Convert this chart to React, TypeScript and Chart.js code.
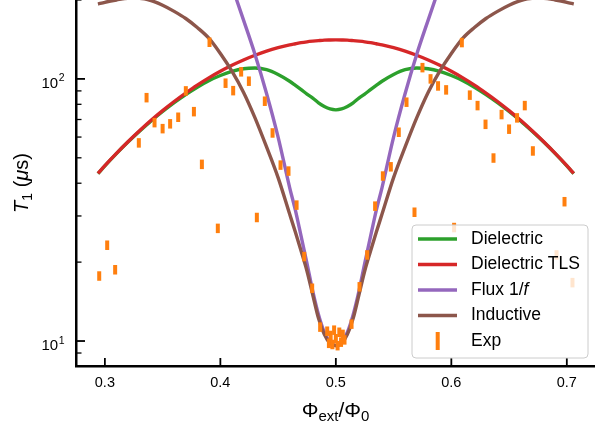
import React, { useEffect, useRef } from "react";
import { Chart, registerables } from "chart.js";

Chart.register(...registerables);

// ---------- data ----------
const flux = [
  0.294, 0.30, 0.31, 0.32, 0.33, 0.34, 0.35, 0.36, 0.37, 0.38, 0.39, 0.40, 0.41, 0.42, 0.43,
  0.44, 0.45, 0.46, 0.465, 0.47, 0.475, 0.48, 0.485, 0.49, 0.495, 0.50,
  0.505, 0.51, 0.515, 0.52, 0.525, 0.53, 0.535, 0.54, 0.55, 0.56, 0.57, 0.58, 0.59, 0.60,
  0.61, 0.62, 0.63, 0.64, 0.65, 0.66, 0.67, 0.68, 0.69, 0.70, 0.706,
];

const dielectric = [
  43.5, 46.6, 51.9, 57.4, 63.1, 69.1, 75.1, 81.2, 87.2, 93.0, 98.4, 103.0, 106.8, 109.3, 110.0,
  108.5, 104.0, 98.0, 94.5, 91.0, 87.5, 84.5, 81.0, 78.5, 76.8, 76.2,
  76.8, 78.5, 81.0, 84.5, 87.5, 91.0, 94.5, 98.0, 104.0, 108.5, 110.0, 109.3, 106.8, 103.0,
  98.4, 93.0, 87.2, 81.2, 75.1, 69.1, 63.1, 57.4, 51.9, 46.6, 43.5,
];

const dielectricTLS = [
  43.6, 46.7, 52.0, 57.6, 63.4, 69.5, 75.7, 82.0, 88.3, 94.7, 100.9, 106.9, 112.7, 118.1, 123.1,
  127.6, 131.5, 134.9, 136.2, 137.5, 138.5, 139.3, 140.0, 140.6, 140.8, 140.9,
  140.8, 140.6, 140.0, 139.3, 138.5, 137.5, 136.2, 134.9, 131.5, 127.6, 123.1, 118.1, 112.7, 106.9,
  100.9, 94.7, 88.3, 82.0, 75.7, 69.5, 63.4, 57.6, 52.0, 46.7, 43.6,
];

const flux1f = [
  null, null, null, null, null, null, null, null, null, null, null, null, 226, 168, 124,
  88, 60, 38.5, 31.5, 25, 19.8, 15.5, 12.6, 10.8, 9.9, 9.6,
  9.9, 10.8, 12.6, 15.5, 19.8, 25, 31.5, 38.5, 60, 88, 124, 168, 226, null,
  null, null, null, null, null, null, null, null, null, null, null,
];

const inductive = [
  193, 196, 200, 203, 203, 199, 191, 181, 170, 157, 143, 125, 107, 89, 71,
  55, 42, 30.5, 26, 22, 18.5, 15, 12.2, 10.6, 9.8, 9.6,
  9.8, 10.6, 12.2, 15, 18.5, 22, 26, 30.5, 42, 55, 71, 89, 107, 125,
  143, 157, 170, 181, 191, 199, 203, 203, 200, 196, 193,
];

const expFlux = [
  0.2951, 0.3020, 0.3089, 0.3294, 0.3361, 0.3430, 0.3500, 0.3565, 0.3635, 0.3701, 0.3771,
  0.3840, 0.3906, 0.3978, 0.4045, 0.4111, 0.4180, 0.4247, 0.4316, 0.4385, 0.4452, 0.4521,
  0.4590, 0.4660, 0.4726, 0.4795, 0.4864,
  0.4925, 0.4940, 0.4955, 0.4970, 0.4985, 0.5000, 0.5015, 0.5030, 0.5045, 0.5060, 0.5075,
  0.5136, 0.5205, 0.5271, 0.5340, 0.5407, 0.5476, 0.5545, 0.5612, 0.5681, 0.5750, 0.5820,
  0.5885, 0.5955, 0.6024, 0.6091, 0.6160, 0.6227, 0.6296, 0.6365, 0.6435, 0.6500, 0.6569,
  0.6636, 0.6706, 0.6911, 0.6980, 0.7049,
];

const expT1 = [
  17.7, 23.2, 18.7, 57.0, 84.8, 68.1, 64.6, 67.4, 71.4, 90.0, 75.0,
  47.2, 138, 26.9, 96.3, 90.2, 106.4, 98.0, 29.6, 82.2, 62.2, 46.9,
  44.5, 33.0, 21.0, 15.9, 11.3,
  10.9, 9.8, 10.5, 9.7, 11.0, 10.2, 9.6, 10.8, 9.9, 10.6, 10.1,
  11.6, 16.1, 21.3, 32.7, 42.6, 46.2, 62.6, 81.5, 31.0, 110.4, 100,
  94.0, 90.8, 27.1, 137.6, 86.7, 79.1, 67.1, 49.9, 73.1, 64.3, 71.0,
  79.1, 53.1, 21.3, 34.0, 16.7,
];

const seriesNames = ["Dielectric", "Dielectric TLS", "Flux 1/f", "Inductive", "Exp"];
const seriesColors = ["#2ca02c", "#d62728", "#9467bd", "#8c564b", "#ff7f0e"];

const xTicks = [0.3, 0.4, 0.5, 0.6, 0.7];
const yMajorTicks = [10, 100];
const yMinorTicks = [9, 20, 30, 40, 50, 60, 70, 80, 90, 200];

const FONT = '"Liberation Sans", Arial, sans-serif';

function drawRuns(ctx: CanvasRenderingContext2D, runs: any[], x: number, y: number) {
  let cx = x;
  for (const r of runs) {
    ctx.font = r.font;
    ctx.fillText(r.t, cx, y + (r.dy || 0));
    cx += ctx.measureText(r.t).width;
  }
}
function runsWidth(ctx: CanvasRenderingContext2D, runs: any[]) {
  let w = 0;
  for (const r of runs) {
    ctx.font = r.font;
    w += ctx.measureText(r.t).width;
  }
  return w;
}

const decorPlugin = {
  id: "decor",
  afterDraw(chart: any) {
    const ctx: CanvasRenderingContext2D = chart.ctx;
    const xs = chart.scales.x;
    const ys = chart.scales.y;
    const area = chart.chartArea;
    ctx.save();
    ctx.strokeStyle = "#000";
    ctx.fillStyle = "#000";
    ctx.lineCap = "butt";

    // inward ticks
    ctx.lineWidth = 1.8;
    for (const v of xTicks) {
      const px = xs.getPixelForValue(v);
      ctx.beginPath();
      ctx.moveTo(px, area.bottom);
      ctx.lineTo(px, area.bottom - 8);
      ctx.stroke();
    }
    for (const v of yMajorTicks) {
      const py = ys.getPixelForValue(v);
      ctx.beginPath();
      ctx.moveTo(area.left, py);
      ctx.lineTo(area.left + 9, py);
      ctx.stroke();
    }
    ctx.lineWidth = 1.3;
    for (const v of yMinorTicks) {
      const py = ys.getPixelForValue(v);
      if (py < area.top - 1 || py > area.bottom) continue;
      ctx.beginPath();
      ctx.moveTo(area.left, py);
      ctx.lineTo(area.left + 5.5, py);
      ctx.stroke();
    }

    // y tick labels 10^n
    ctx.textBaseline = "alphabetic";
    ctx.textAlign = "left";
    for (const v of yMajorTicks) {
      const py = ys.getPixelForValue(v);
      const exp = String(Math.round(Math.log10(v)));
      ctx.font = `15px ${FONT}`;
      const wBase = ctx.measureText("10").width;
      ctx.font = `10.5px ${FONT}`;
      const wExp = ctx.measureText(exp).width;
      const x0 = area.left - 12 - wBase - wExp;
      ctx.font = `15px ${FONT}`;
      ctx.fillText("10", x0, py + 9);
      ctx.font = `10.5px ${FONT}`;
      ctx.fillText(exp, x0 + wBase + 0.5, py + 2.5);
    }

    // x title: Φ_ext / Φ_0
    const big = `21px ${FONT}`;
    const small = `15px ${FONT}`;
    const xRuns = [
      { t: "Φ", font: big },
      { t: "ext", font: small, dy: 4 },
      { t: "/Φ", font: big },
      { t: "0", font: small, dy: 4 },
    ];
    const xw = runsWidth(ctx, xRuns);
    const xc = (area.left + area.right) / 2;
    drawRuns(ctx, xRuns, xc - xw / 2, 417);

    // y title: T_1 (μs)
    const yRuns = [
      { t: "T", font: `italic 20px ${FONT}` },
      { t: "1", font: `14px ${FONT}`, dy: 4 },
      { t: " (", font: `20px ${FONT}` },
      { t: "μ", font: `italic 20px ${FONT}` },
      { t: "s)", font: `20px ${FONT}` },
    ];
    const yw = runsWidth(ctx, yRuns);
    const yc = (area.top + area.bottom) / 2;
    ctx.save();
    ctx.translate(28, yc);
    ctx.rotate(-Math.PI / 2);
    drawRuns(ctx, yRuns, -yw / 2, 0);
    ctx.restore();

    // legend
    const lx = 412, ly = 225, lw = 176, lh = 133;
    ctx.beginPath();
    (ctx as any).roundRect(lx, ly, lw, lh, 4);
    ctx.fillStyle = "rgba(255,255,255,0.8)";
    ctx.fill();
    ctx.strokeStyle = "#cccccc";
    ctx.lineWidth = 1;
    ctx.stroke();

    const datasets = chart.data.datasets;
    ctx.textBaseline = "middle";
    for (let i = 0; i < datasets.length; i++) {
      const ds = datasets[i];
      const ry = 239 + i * 25.5;
      if (ds.showLine === false) {
        ctx.fillStyle = ds.borderColor;
        ctx.fillRect(437.7 - 2, ry - 9, 4, 18);
      } else {
        ctx.strokeStyle = ds.borderColor;
        ctx.lineWidth = 3.4;
        ctx.beginPath();
        ctx.moveTo(418, ry);
        ctx.lineTo(457, ry);
        ctx.stroke();
      }
      ctx.fillStyle = "#000";
      const label: string = ds.label;
      if (label.endsWith("1/f")) {
        drawRuns(
          ctx,
          [
            { t: label.slice(0, -1), font: `17.5px ${FONT}` },
            { t: "f", font: `italic 17.5px ${FONT}` },
          ],
          471,
          ry
        );
      } else {
        ctx.font = `17.5px ${FONT}`;
        ctx.fillText(label, 471, ry);
      }
    }
    ctx.restore();
  },
};

export default function App() {
  const canvasRef = useRef<HTMLCanvasElement | null>(null);

  useEffect(() => {
    document.body.style.margin = "0";
    const canvas = canvasRef.current;
    if (!canvas) return;
    const curves = [dielectric, dielectricTLS, flux1f, inductive];
    const orders = [4, 3, 2, 1];
    const datasets: any[] = curves.map((vals, k) => ({
      label: seriesNames[k],
      data: flux.map((x, i) => ({ x, y: vals[i] })),
      borderColor: seriesColors[k],
      backgroundColor: seriesColors[k],
      borderWidth: 3.4,
      pointRadius: 0,
      fill: false,
      cubicInterpolationMode: "monotone",
      spanGaps: false,
      order: orders[k],
    }));
    datasets.push({
      label: seriesNames[4],
      data: expFlux.map((x, i) => ({ x, y: expT1[i] })),
      showLine: false,
      borderColor: seriesColors[4],
      backgroundColor: seriesColors[4],
      pointStyle: "line",
      rotation: 90,
      pointRadius: 4.75,
      pointBorderWidth: 4,
      borderWidth: 4,
      order: 0,
    });

    const chart = new Chart(canvas, {
      type: "line",
      data: { datasets },
      options: {
        animation: false,
        responsive: false,
        devicePixelRatio: 1,
        layout: { padding: 0, autoPadding: false },
        events: [],
        plugins: {
          legend: { display: false },
          tooltip: { enabled: false },
        },
        scales: {
          x: {
            type: "linear",
            min: 0.275,
            max: 0.7244,
            afterBuildTicks: (s: any) => {
              s.ticks = xTicks.map((v) => ({ value: v }));
            },
            afterFit: (s: any) => {
              s.height = 65;
              s.paddingLeft = 0;
              s.paddingRight = 0;
            },
            ticks: {
              autoSkip: false,
              maxRotation: 0,
              padding: 8,
              color: "#000",
              font: { family: FONT, size: 14.5 },
              callback: (v: any) => Number(v).toFixed(1),
            },
            grid: { display: false, drawTicks: false },
            border: { display: true, color: "#000", width: 2.5 },
          },
          y: {
            type: "logarithmic",
            min: 8.03,
            max: 200,
            afterFit: (s: any) => {
              s.width = 76;
              s.paddingTop = 0;
              s.paddingBottom = 0;
            },
            ticks: { display: false },
            grid: { display: false, drawTicks: false },
            border: { display: true, color: "#000", width: 2.5 },
          },
        },
      },
      plugins: [decorPlugin],
    });
    return () => chart.destroy();
  }, []);

  return (
    <div style={{ width: 595, height: 431 }}>
      <canvas ref={canvasRef} width={595} height={431} />
    </div>
  );
}
